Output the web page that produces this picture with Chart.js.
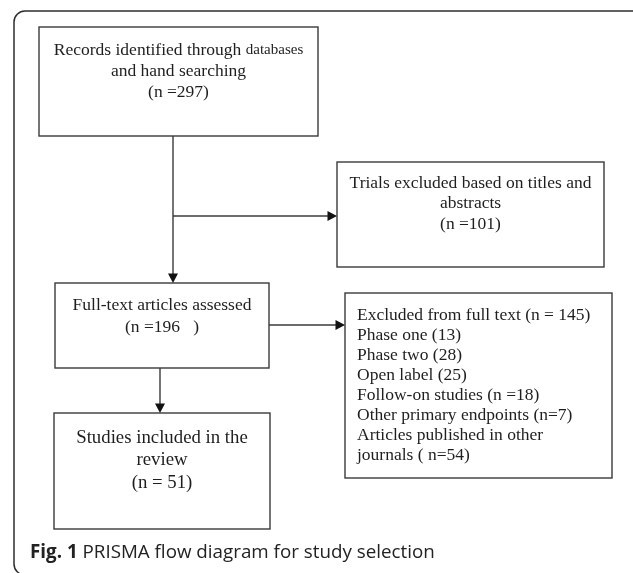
<!DOCTYPE html>
<html>
<head>
<meta charset="utf-8">
<script src="https://cdn.jsdelivr.net/npm/chart.js@4/dist/chart.umd.min.js"></script>
<style>
  html, body { margin: 0; padding: 0; background: #fff; }
</style>
</head>
<body>
<canvas id="flow" width="633" height="573"></canvas>
<script>
// stage counts: identified, excluded on titles, full text, excluded full text, included
const stageCounts = [297, 101, 196, 145, 51];
const reasonLabels = ['Phase one', 'Phase two', 'Open label', 'Follow-on studies', 'Other primary endpoints', 'Articles published in other'];
const reasonCounts = [13, 28, 25, 18, 7, 54];
const captionLabel = 'Fig. 1';
const captionText = 'PRISMA flow diagram for study selection';

const SERIF = '"Liberation Serif", "Times New Roman", serif';
const SANS = '"Open Sans", "Noto Sans", sans-serif';
const LINE = '#3a3a3a';
const INK = '#1e1e1e';

// layout in scale units (x 0..633, y 0..573 top-down)
const layout = {
    frame: { x0: 14, y0: 11, x1: 643, y1: 575, r: 11 },
    boxes: [
        { x0: 39, y0: 27, x1: 318, y1: 136 },
        { x0: 337, y0: 162, x1: 604, y1: 267 },
        { x0: 55, y0: 283, x1: 269, y1: 368 },
        { x0: 345, y0: 293, x1: 612, y1: 478 },
        { x0: 54, y0: 413, x1: 270, y1: 529 }
    ],
    arrows: [
        [[173, 136], [173, 283]],
        [[173, 216], [337, 216]],
        [[269, 325], [345, 325]],
        [[160, 368], [160, 413]]
    ]
};

const boxText = [
    { align: 'center', size: 17.5, top: 50, step: 21, lines: [
        [['Records identified through ', 17.5], ['databases', 15]],
        'and hand searching',
        '(n =' + stageCounts[0] + ')'
    ] },
    { align: 'center', size: 17.5, top: 183, step: 20.5, lines: [
        'Trials excluded based on titles and',
        'abstracts',
        '(n =' + stageCounts[1] + ')'
    ] },
    { align: 'center', size: 17.5, top: 305, step: 22, lines: [
        'Full-text articles assessed',
        '(n =' + stageCounts[2] + '   )'
    ] },
    { align: 'left', size: 17.5, top: 315, step: 20, lines: [
        'Excluded from full text (n = ' + stageCounts[3] + ')',
        reasonLabels[0] + ' (' + reasonCounts[0] + ')',
        reasonLabels[1] + ' (' + reasonCounts[1] + ')',
        reasonLabels[2] + ' (' + reasonCounts[2] + ')',
        reasonLabels[3] + ' (n =' + reasonCounts[3] + ')',
        reasonLabels[4] + ' (n=' + reasonCounts[4] + ')',
        reasonLabels[5],
        'journals ( n=' + reasonCounts[5] + ')'
    ] },
    { align: 'center', size: 18.8, top: 438, step: 22.5, lines: [
        'Studies included in the',
        'review',
        '(n = ' + stageCounts[4] + ')'
    ] }
];

const flowPlugin = {
    id: 'flow',
    afterDraw(chart) {
        const ctx = chart.ctx;
        const sx = chart.scales.x, sy = chart.scales.y;
        const px = v => sx.getPixelForValue(v);
        const py = v => sy.getPixelForValue(v);
        ctx.save();

        // outer frame
        const f = layout.frame;
        ctx.strokeStyle = '#2e2e2e';
        ctx.lineWidth = 1.5;
        ctx.beginPath();
        ctx.roundRect(px(f.x0), py(f.y0), px(f.x1) - px(f.x0), py(f.y1) - py(f.y0), f.r);
        ctx.stroke();

        // boxes
        ctx.strokeStyle = LINE;
        ctx.lineWidth = 1.4;
        layout.boxes.forEach(b => {
            ctx.strokeRect(px(b.x0), py(b.y0), px(b.x1) - px(b.x0), py(b.y1) - py(b.y0));
        });

        // connectors with arrowheads
        layout.arrows.forEach(a => {
            const x0 = px(a[0][0]), y0 = py(a[0][1]);
            const x1 = px(a[1][0]), y1 = py(a[1][1]);
            const ang = Math.atan2(y1 - y0, x1 - x0);
            ctx.beginPath();
            ctx.moveTo(x0, y0);
            ctx.lineTo(x1 - Math.cos(ang) * 6, y1 - Math.sin(ang) * 6);
            ctx.stroke();
            ctx.save();
            ctx.translate(x1, y1);
            ctx.rotate(ang);
            ctx.fillStyle = '#111';
            ctx.beginPath();
            ctx.moveTo(0, 0);
            ctx.lineTo(-9.5, -5);
            ctx.lineTo(-9.5, 5);
            ctx.closePath();
            ctx.fill();
            ctx.restore();
        });

        // box text
        ctx.fillStyle = INK;
        ctx.textBaseline = 'middle';
        boxText.forEach((t, i) => {
            const b = layout.boxes[i];
            const cx = (px(b.x0) + px(b.x1)) / 2;
            t.lines.forEach((ln, j) => {
                const y = py(t.top + j * t.step);
                const parts = typeof ln === 'string' ? [[ln, t.size]] : ln;
                let w = 0;
                parts.forEach(p => {
                    ctx.font = p[1] + 'px ' + SERIF;
                    w += ctx.measureText(p[0]).width;
                });
                let x = t.align === 'center' ? cx - w / 2 : px(b.x0) + 12;
                ctx.textAlign = 'left';
                parts.forEach(p => {
                    ctx.font = p[1] + 'px ' + SERIF;
                    ctx.fillText(p[0], x, y);
                    x += ctx.measureText(p[0]).width;
                });
            });
        });

        // caption
        ctx.fillStyle = '#222';
        ctx.textAlign = 'left';
        ctx.font = 'bold 18.8px ' + SANS;
        const cy = py(553);
        let cx = px(30);
        ctx.fillText(captionLabel, cx, cy);
        cx += ctx.measureText(captionLabel + ' ').width;
        ctx.font = '18.8px ' + SANS;
        ctx.fillText(captionText, cx, cy);

        ctx.restore();
    }
};

new Chart(document.getElementById('flow'), {
    type: 'scatter',
    data: { datasets: [{ data: [] }] },
    options: {
        responsive: false,
        animation: false,
        layout: { padding: 0 },
        plugins: { legend: { display: false }, tooltip: { enabled: false } },
        scales: {
            x: { type: 'linear', min: 0, max: 633, display: false },
            y: { type: 'linear', min: 0, max: 573, reverse: true, display: false }
        }
    },
    plugins: [flowPlugin]
});
</script>
</body>
</html>
